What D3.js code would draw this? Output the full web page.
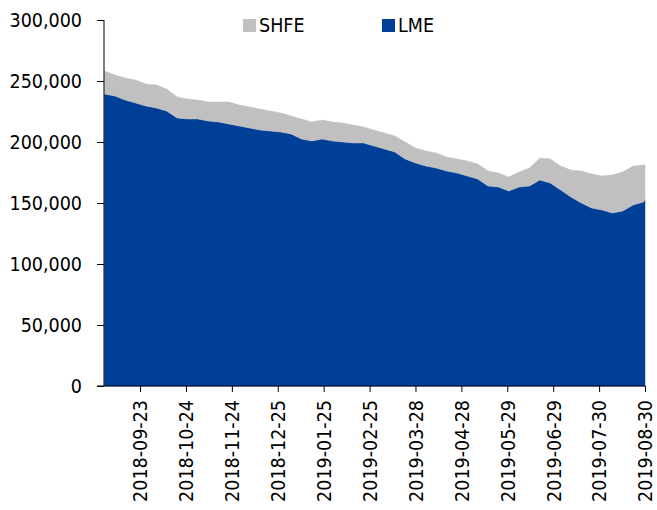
<!DOCTYPE html>
<html><head><meta charset="utf-8">
<script src="https://cdn.jsdelivr.net/npm/d3@7"></script>
<style>body{margin:0;background:#fff}svg{display:block}text{font-family:"DejaVu Sans Condensed","DejaVu Sans",sans-serif;fill:#000}</style>
</head><body><svg id="c" width="657" height="510"></svg>
<script>
const dates = ["2018-08-30","2018-09-06","2018-09-13","2018-09-20","2018-09-27","2018-10-04","2018-10-11","2018-10-18","2018-10-25","2018-11-01","2018-11-08","2018-11-15","2018-11-22","2018-11-29","2018-12-06","2018-12-13","2018-12-20","2018-12-27","2019-01-03","2019-01-10","2019-01-17","2019-01-24","2019-01-31","2019-02-07","2019-02-14","2019-02-21","2019-02-28","2019-03-07","2019-03-14","2019-03-21","2019-03-28","2019-04-04","2019-04-11","2019-04-18","2019-04-25","2019-05-02","2019-05-09","2019-05-16","2019-05-23","2019-05-30","2019-06-06","2019-06-13","2019-06-20","2019-06-27","2019-07-04","2019-07-11","2019-07-18","2019-07-25","2019-08-01","2019-08-08","2019-08-15","2019-08-22","2019-08-29","2019-08-30"];
const lme = [239300,237700,234400,232000,229500,227900,225400,219700,218900,218900,217200,216400,214800,213100,211500,209800,209000,208200,206600,202500,200800,202500,200800,200000,199200,199200,196700,194300,191800,186100,182800,180300,178700,176200,174600,172100,169700,163900,163100,159800,163100,163900,168900,166400,160700,154900,150000,145900,144300,141800,143400,148400,150800,152500];
const shfe = [18900,17200,18100,18800,18000,18800,18000,17200,16300,15500,15600,16400,18000,17200,17200,17200,16400,15600,14700,16400,15600,15500,15600,15600,14700,13100,13100,13100,13100,13900,12300,12300,12300,11500,11500,12300,12300,12300,11500,11500,12300,14800,18000,19700,19600,22100,26200,27900,27800,31200,32000,31900,30300,28600];
const xTicks = ["2018-09-23","2018-10-24","2018-11-24","2018-12-25","2019-01-25","2019-02-25","2019-03-28","2019-04-28","2019-05-29","2019-06-29","2019-07-30","2019-08-30"];
const yTicks = [0,50000,100000,150000,200000,250000,300000];
const seriesNames = ["LME","SHFE"];
const colors = {LME:"#003f97", SHFE:"#c0c0c0"};

const parse = d3.timeParse("%Y-%m-%d");
const rows = dates.map((d,i)=>({date:parse(d), LME:lme[i], SHFE:shfe[i]}));
const svg = d3.select("#c");
const x = d3.scaleTime().domain([parse("2018-08-30"), parse("2019-08-30")]).range([104.5, 645]);
const y = d3.scaleLinear().domain([0,300000]).range([386,20]);

const stack = d3.stack().keys(seriesNames)(rows);
const area = d3.area().x(d=>x(d.data.date)).y0(d=>y(d[0])).y1(d=>y(d[1]));
svg.append("g").selectAll("path").data(stack).join("path")
  .attr("d", area).attr("fill", d=>colors[d.key]).attr("stroke", d=>colors[d.key]).attr("stroke-width",0.5);

// y axis
const ya = svg.append("g").attr("transform","translate(104,0)")
  .call(d3.axisLeft(y).tickValues(yTicks).tickFormat(d3.format(",")).tickSize(7).tickPadding(15));
ya.select(".domain").attr("stroke","#000").attr("d","M0,20V386");
ya.selectAll(".tick line").attr("stroke","#000");
ya.selectAll("text").style("font-size","19.5px").attr("dy","0.35em");

// x axis
const xa = svg.append("g").attr("transform","translate(0,386)")
  .call(d3.axisBottom(x).tickValues(xTicks.map(parse)).tickFormat(d3.timeFormat("%Y-%m-%d")).tickSize(6).tickPadding(0));
xa.select(".domain").attr("stroke","#000").attr("d","M97,0H645");
xa.selectAll(".tick line").attr("stroke","#000");
xa.selectAll("text").style("font-size","19.5px")
  .attr("transform","rotate(-90)").attr("text-anchor","end")
  .attr("x",-14).attr("y",0).attr("dy","0.35em");

// legend
const legend = [{k:"SHFE", x:243},{k:"LME", x:382}];
const lg = svg.append("g").selectAll("g").data(legend).join("g");
lg.append("rect").attr("x",d=>d.x).attr("y",19).attr("width",13).attr("height",13).attr("fill",d=>colors[d.k]);
lg.append("text").attr("x",d=>d.x+16).attr("y",32).style("font-size","19.5px").text(d=>d.k);
</script></body></html>
